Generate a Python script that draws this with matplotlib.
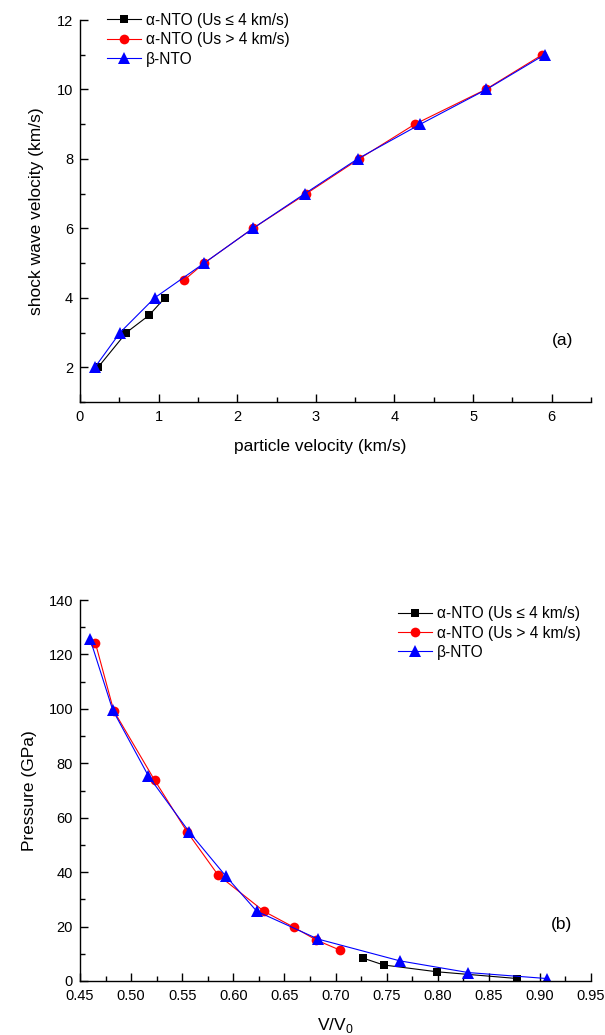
import matplotlib
matplotlib.use("Agg")
import matplotlib.pyplot as plt
from matplotlib.ticker import MultipleLocator, FormatStrFormatter

plt.rcParams['font.family'] = ['Liberation Sans', 'DejaVu Sans']
plt.rcParams['mathtext.fontset'] = 'custom'
plt.rcParams['mathtext.rm'] = 'Liberation Sans'

labels = ['α-NTO (Us ≤ 4 km/s)', 'α-NTO (Us > 4 km/s)', 'β-NTO']

# (a) particle velocity vs shock velocity
up_a1 = [0.23, 0.59, 0.88, 1.08]
us_a1 = [2.0, 3.0, 3.5, 4.0]
up_a2 = [1.32, 1.58, 2.20, 2.88, 3.55, 4.26, 5.16, 5.88]
us_a2 = [4.5, 5.0, 6.0, 7.0, 8.0, 9.0, 10.0, 11.0]
up_b = [0.19, 0.51, 0.95, 1.58, 2.20, 2.86, 3.53, 4.33, 5.17, 5.91]
us_b = [2.0, 3.0, 4.0, 5.0, 6.0, 7.0, 8.0, 9.0, 10.0, 11.0]

# (b) V/V0 vs pressure
v_a1 = [0.727, 0.747, 0.799, 0.878]
p_a1 = [8.4, 5.9, 3.4, 0.9]
v_a2 = [0.465, 0.483, 0.523, 0.555, 0.585, 0.630, 0.659, 0.681, 0.704]
p_a2 = [124.3, 99.3, 73.8, 54.7, 39.0, 25.6, 19.8, 15.1, 11.4]
v_b = [0.460, 0.482, 0.517, 0.557, 0.593, 0.623, 0.683, 0.763, 0.830, 0.907]
p_b = [125.5, 99.6, 75.3, 54.7, 38.4, 25.6, 15.4, 7.4, 3.1, 0.9]

fig = plt.figure(figsize=(6.05, 10.35), dpi=100)
W, H = 605, 1035
ax1 = fig.add_axes([80 / W, (H - 402) / H, 511 / W, 382 / H])
ax2 = fig.add_axes([80 / W, (H - 981) / H, 511 / W, 381 / H])

styles = [dict(color='black', marker='s', ms=6, lw=0.8),
          dict(color='red', marker='o', ms=7, lw=0.8),
          dict(color='blue', marker='^', ms=8, lw=0.8)]

for ax, data in ((ax1, [(up_a1, us_a1), (up_a2, us_a2), (up_b, us_b)]),
                 (ax2, [(v_a1, p_a1), (v_a2, p_a2), (v_b, p_b)])):
    for (x, y), st, lab in zip(data, styles, labels):
        ax.plot(x, y, label=lab, markeredgewidth=0, **st)
    for s in ('top', 'right'):
        ax.spines[s].set_visible(False)
    for s in ('left', 'bottom'):
        ax.spines[s].set_linewidth(1.0)
    ax.tick_params(which='major', direction='in', length=6, width=1.0, labelsize=10.5)
    ax.tick_params(which='minor', direction='in', length=3.5, width=1.0)
    ax.tick_params(axis='x', which='major', pad=6)
    ax.tick_params(axis='y', which='major', pad=5)

ax1.set_xlim(0, 6.5)
ax1.set_ylim(1, 12)
ax1.xaxis.set_major_locator(MultipleLocator(1))
ax1.xaxis.set_minor_locator(MultipleLocator(0.5))
ax1.set_yticks([2, 4, 6, 8, 10, 12])
ax1.yaxis.set_minor_locator(MultipleLocator(1))
ax1.set_xlabel('particle velocity (km/s)', fontsize=12.5)
ax1.xaxis.set_label_coords(0.47, -0.098)
ax1.set_ylabel('shock wave velocity (km/s)', fontsize=12.5)
ax1.yaxis.set_label_coords(-0.07, 0.5)
fig.text(563 / W, 1 - 340 / H, '(a)', fontsize=12.5, ha='center', va='center')
ax1.legend(loc='upper left', bbox_to_anchor=((101 - 80) / 511, 1.035), frameon=False,
           fontsize=11.2, handlelength=2.2, handletextpad=0.3, labelspacing=0.28,
           borderaxespad=0)

ax2.set_xlim(0.45, 0.95)
ax2.set_ylim(0, 140)
ax2.xaxis.set_major_locator(MultipleLocator(0.05))
ax2.xaxis.set_minor_locator(MultipleLocator(0.025))
ax2.yaxis.set_major_locator(MultipleLocator(20))
ax2.yaxis.set_minor_locator(MultipleLocator(10))
ax2.xaxis.set_major_formatter(FormatStrFormatter('%.2f'))
ax2.set_xlabel(r'V/V$_\mathregular{0}$', fontsize=12.5)
ax2.xaxis.set_label_coords(0.5, -0.092)
ax2.set_ylabel('Pressure (GPa)', fontsize=12.5)
ax2.yaxis.set_label_coords(-0.084, 0.5)
fig.text(562 / W, 1 - 925 / H, '(b)', fontsize=12.5, ha='center', va='center')
ax2.legend(loc='upper left', bbox_to_anchor=((392 - 80) / 511, 1.0), frameon=False,
           fontsize=11.2, handlelength=2.2, handletextpad=0.3, labelspacing=0.28,
           borderaxespad=0)

fig.savefig('out.png', dpi=100)
